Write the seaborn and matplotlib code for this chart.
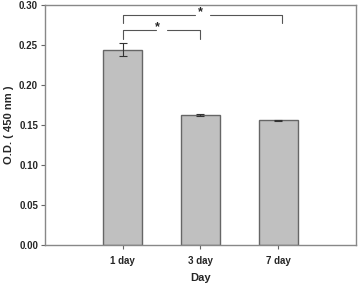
import numpy as np
import pandas as pd
import matplotlib
matplotlib.use("Agg")
import matplotlib.pyplot as plt
import seaborn as sns

# values
days = ["1 day", "3 day", "7 day"]
od_mean = [0.244, 0.1625, 0.156]
od_err = [0.008, 0.001, 0.0005]

sns.set_style("white")
plt.rcParams['font.family'] = ['Liberation Sans', 'DejaVu Sans']
plt.rcParams['font.weight'] = 'bold'

df = pd.DataFrame({"Day": days, "OD": od_mean})

fig = plt.figure(figsize=(3.58, 2.87), dpi=100)
ax = fig.add_axes([0.1257, 0.1463, 0.8683, 0.8363])

sns.barplot(data=df, x="Day", y="OD", color="#c0c0c0", edgecolor="#666666",
            linewidth=1.0, width=0.5, errorbar=None, saturation=1, ax=ax)
ax.errorbar(np.arange(len(days)), od_mean, yerr=od_err, fmt="none",
            ecolor="#333333", elinewidth=0.8, capsize=3, capthick=0.8)

ax.set_xlim(-1.0, 3.0)
ax.set_ylim(0, 0.30)
ax.set_yticks(np.arange(0, 0.31, 0.05))
ax.set_yticklabels([f"{v:.2f}" for v in np.arange(0, 0.31, 0.05)])

for s in ax.spines.values():
    s.set_color("#888888")
    s.set_linewidth(1.0)
ax.tick_params(axis="both", direction="out", length=3, width=0.8, color="#666666",
               labelsize=7, pad=2, bottom=True, left=True)
ax.tick_params(axis="x", pad=5)
for lab in ax.get_xticklabels() + ax.get_yticklabels():
    lab.set_fontweight("bold")

ax.set_xlabel("Day", fontsize=8, fontweight="bold", labelpad=5)
ax.set_ylabel("O.D. ( 450 nm )", fontsize=8, fontweight="bold", labelpad=4)

# significance brackets
lc = "#555555"
# 1 day vs 7 day
y_top, y_leg = 0.288, 0.277
ax.plot([0, 0, 0.93], [y_leg, y_top, y_top], color=lc, lw=0.8, clip_on=False)
ax.plot([1.12, 2.05, 2.05], [y_top, y_top, y_leg], color=lc, lw=0.8, clip_on=False)
ax.text(1.0, y_top - 0.004, "*", ha="center", va="bottom", fontsize=9, fontweight="bold")
# 1 day vs 3 day
y_top2, y_leg2 = 0.2685, 0.258
ax.plot([0, 0, 0.43], [y_leg2, y_top2, y_top2], color=lc, lw=0.8, clip_on=False)
ax.plot([0.57, 1.0, 1.0], [y_top2, y_top2, y_leg2], color=lc, lw=0.8, clip_on=False)
ax.text(0.45, y_top2 - 0.004, "*", ha="center", va="bottom", fontsize=9, fontweight="bold")

fig.savefig("out.png", dpi=100)
